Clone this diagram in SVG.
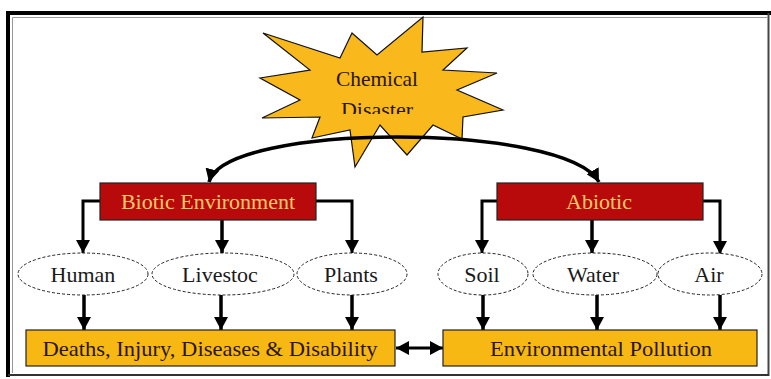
<svg xmlns="http://www.w3.org/2000/svg" width="771" height="379" viewBox="0 0 771 379">
<style>
.t{font-family:"Liberation Serif","Times New Roman",serif;font-size:22px;text-anchor:middle}
.dark{fill:#2a1606}
.red{fill:#b80a0a;stroke:#222;stroke-width:1.2}
.gold{fill:#f8b814;stroke:#222;stroke-width:1.2}
.ell{fill:#fff;stroke:#222;stroke-width:1;stroke-dasharray:3 2}
.con{fill:none;stroke:#000;stroke-width:3.5}
.hc{fill:none;stroke:#000;stroke-width:3}
</style>
<defs>
<marker id="ah" markerUnits="userSpaceOnUse" markerWidth="14" markerHeight="14" refX="13" refY="7" orient="auto">
<path d="M0,0 L13,7 L0,14 Z" fill="#000"/>
</marker>
<marker id="as" markerUnits="userSpaceOnUse" markerWidth="14" markerHeight="14" refX="13" refY="7" orient="auto-start-reverse">
<path d="M0,0 L13,7 L0,14 Z" fill="#000"/>
</marker>
<clipPath id="clipDis"><rect x="300" y="90" width="160" height="24"/></clipPath>
</defs>
<rect width="771" height="379" fill="#fff"/>
<g id="frame" fill="none">
<path d="M8,377 V13 H771" stroke="#000" stroke-width="4"/>
<path d="M768.5,13 V376" stroke="#444" stroke-width="2"/>
<path d="M8,375 H769" stroke="#333" stroke-width="2"/>
<path d="M12.5,373 V17.5 H767" stroke="#999" stroke-width="1"/>
</g>
<g id="star">
<polygon points="263,33 310,70 260,78 300,100 262,118 320,117 312,138 350,130 355,167 380,125 407,155 433,125 462,139 463,117 503,110 457,90 497,73 443,70 467,48 422,52 423,17 377,55 352,33 340,58" fill="#f9b91c" stroke="#111" stroke-width="1.2" stroke-linejoin="miter"/>
<text class="t dark" x="377" y="86" textLength="82" lengthAdjust="spacingAndGlyphs">Chemical</text>
<text class="t dark" x="377" y="117" clip-path="url(#clipDis)">Disaster</text>
</g>
<g id="connectors">
<path class="con" d="M209,182 C225,122 565,122 599,182" marker-start="url(#as)" marker-end="url(#ah)"/>
<polyline class="hc" points="100,201 83,201 83,253" marker-end="url(#ah)"/>
<line class="con" x1="222" y1="220" x2="222" y2="253" marker-end="url(#ah)"/>
<polyline class="hc" points="316,201 352,201 352,253" marker-end="url(#ah)"/>
<polyline class="hc" points="497,201 482,201 482,253" marker-end="url(#ah)"/>
<line class="con" x1="592" y1="220" x2="592" y2="253" marker-end="url(#ah)"/>
<polyline class="hc" points="703,201 720,201 720,254" marker-end="url(#ah)"/>
<line class="con" x1="84" y1="295" x2="84" y2="330" marker-end="url(#ah)"/>
<line class="con" x1="221" y1="295" x2="221" y2="330" marker-end="url(#ah)"/>
<line class="con" x1="352" y1="295" x2="352" y2="330" marker-end="url(#ah)"/>
<line class="con" x1="483" y1="295" x2="483" y2="330" marker-end="url(#ah)"/>
<line class="con" x1="597" y1="295" x2="597" y2="330" marker-end="url(#ah)"/>
<line class="con" x1="720" y1="295" x2="720" y2="330" marker-end="url(#ah)"/>
<line class="hc" x1="396" y1="348" x2="443" y2="348" marker-start="url(#as)" marker-end="url(#ah)"/>
</g>
<g id="biotic">
<rect class="red" x="100" y="183" width="216" height="37"/>
<text class="t" x="208" y="209" fill="#ffc96a">Biotic Environment</text>
</g>
<g id="abiotic">
<rect class="red" x="497" y="183" width="206" height="37"/>
<text class="t" x="599" y="209" fill="#ffc96a">Abiotic</text>
</g>
<g id="human">
<ellipse class="ell" cx="83" cy="274" rx="65" ry="21"/>
<text class="t" x="83" y="282" fill="#1a1a1a">Human</text>
</g>
<g id="livestoc">
<ellipse class="ell" cx="223" cy="274" rx="71" ry="21"/>
<text class="t" x="220" y="282" fill="#1a1a1a">Livestoc</text>
</g>
<g id="plants">
<ellipse class="ell" cx="352" cy="274" rx="55" ry="21"/>
<text class="t" x="351" y="282" fill="#1a1a1a">Plants</text>
</g>
<g id="soil">
<ellipse class="ell" cx="483" cy="274" rx="45" ry="21"/>
<text class="t" x="482" y="282" fill="#1a1a1a">Soil</text>
</g>
<g id="water">
<ellipse class="ell" cx="595" cy="274" rx="62" ry="21"/>
<text class="t" x="593" y="282" fill="#1a1a1a">Water</text>
</g>
<g id="air">
<ellipse class="ell" cx="710" cy="274" rx="52" ry="21"/>
<text class="t" x="709" y="282" fill="#1a1a1a">Air</text>
</g>
<g id="deaths">
<rect class="gold" x="26" y="330" width="369" height="36"/>
<text class="t dark" x="210" y="356" textLength="335" lengthAdjust="spacingAndGlyphs">Deaths, Injury, Diseases &amp; Disability</text>
</g>
<g id="pollution">
<rect class="gold" x="443" y="330" width="314" height="36"/>
<text class="t dark" x="601" y="356" textLength="222" lengthAdjust="spacingAndGlyphs">Environmental Pollution</text>
</g>
</svg>
